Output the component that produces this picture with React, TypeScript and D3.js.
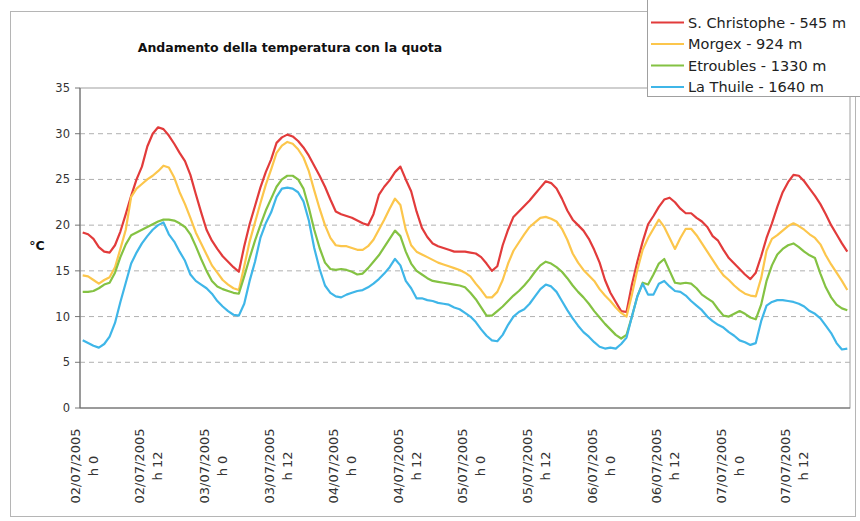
import React from 'react';
import * as d3 from 'd3';

const seriesNames = ['S. Christophe - 545 m', 'Morgex - 924 m', 'Etroubles - 1330 m', 'La Thuile - 1640 m'];
const seriesColors = ['#e23b3b', '#fcc64c', '#84c243', '#3fb6e8'];

// hourly temperatures, 02/07/2005 h 0 onwards
const sChristophe = [
  19.2, 19.0, 18.5, 17.6, 17.1, 17.0, 17.8, 19.3, 21.2, 23.2, 25.0, 26.4, 28.6, 30.0, 30.7, 30.5, 29.8, 28.9, 27.9, 27.0, 25.5, 23.4, 21.4, 19.5,
  18.3, 17.4, 16.6, 16.0, 15.4, 14.9, 17.7, 20.1, 22.1, 24.1, 25.8, 27.2, 29.0, 29.6, 29.9, 29.7, 29.2, 28.5, 27.6, 26.5, 25.4, 24.2, 22.8, 21.5,
  21.2, 21.0, 20.8, 20.5, 20.2, 20.0, 21.2, 23.3, 24.2, 24.9, 25.8, 26.4, 25.0, 23.7, 21.5, 19.7, 18.7, 18.0, 17.7, 17.5, 17.3, 17.1, 17.1, 17.1,
  17.0, 16.9, 16.5, 15.8, 15.0, 15.5, 17.8, 19.5, 20.9, 21.5, 22.1, 22.7, 23.4, 24.1, 24.8, 24.6, 24.0, 22.9, 21.6, 20.6, 20.0, 19.4, 18.5, 17.3,
  15.9, 14.0, 12.6, 11.6, 10.6, 10.5, 13.5, 16.0, 18.2, 20.1, 21.0, 22.0, 22.8, 23.0, 22.5, 21.8, 21.3, 21.3, 20.8, 20.4, 19.8, 18.8, 18.3, 17.3,
  16.4, 15.8, 15.2, 14.6, 14.1, 14.8, 16.6, 18.6, 20.2, 22.0, 23.6, 24.7, 25.5, 25.4, 24.8, 24.0, 23.2, 22.3, 21.2, 20.0, 19.0, 18.0, 17.1,
];
const morgex = [
  14.5, 14.4, 14.0, 13.6, 14.0, 14.3, 15.4, 17.4, 19.5, 23.1, 24.0, 24.5, 25.0, 25.4, 25.9, 26.5, 26.3, 25.2, 23.6, 22.3, 20.8, 19.2, 18.0, 16.8,
  15.6, 14.8, 14.0, 13.5, 13.1, 12.9, 15.5, 18.2, 20.3, 22.4, 24.4, 26.1, 27.9, 28.7, 29.1, 28.9, 28.3, 27.4, 25.9, 23.8, 21.8, 20.0, 18.6, 17.8,
  17.7, 17.7, 17.5, 17.3, 17.3, 17.7, 18.4, 19.5, 20.6, 21.8, 22.9, 22.2, 19.5, 17.8, 17.1, 16.8, 16.5, 16.2, 15.9, 15.7, 15.5, 15.3, 15.1, 14.8,
  14.4, 13.6, 12.9, 12.1, 12.1, 12.7, 14.0, 15.8, 17.2, 18.1, 19.0, 19.8, 20.3, 20.8, 20.9, 20.7, 20.4, 19.6, 18.4, 16.9, 15.9, 15.1, 14.5, 13.9,
  13.0, 12.3, 11.7, 11.0, 10.4, 10.0, 12.4, 15.1, 17.3, 18.6, 19.6, 20.6, 19.8, 18.6, 17.4, 18.6, 19.6, 19.6, 18.9, 18.0, 17.1, 16.2, 15.3, 14.5,
  14.0, 13.4, 12.9, 12.5, 12.3, 12.2, 14.2, 17.2, 18.5, 18.9, 19.4, 19.9, 20.2, 19.9, 19.5, 19.0, 18.6, 17.9, 16.7, 15.7, 14.8, 13.9, 12.9,
];
const etroubles = [
  12.7, 12.7, 12.8, 13.1, 13.5, 13.7, 14.8, 16.5, 17.9, 18.9, 19.2, 19.5, 19.8, 20.1, 20.4, 20.6, 20.6, 20.5, 20.2, 19.8, 19.0, 17.7, 16.3, 15.0,
  13.9, 13.3, 13.0, 12.8, 12.6, 12.5, 14.4, 16.4, 18.3, 20.0, 21.6, 22.9, 24.2, 25.0, 25.4, 25.4, 25.0, 24.0, 21.9, 19.5, 17.5, 15.9, 15.2, 15.1,
  15.2, 15.1, 14.9, 14.6, 14.7, 15.3, 16.0, 16.7, 17.6, 18.5, 19.4, 18.8, 17.1, 15.8, 15.0, 14.6, 14.2, 13.9, 13.8, 13.7, 13.6, 13.5, 13.4, 13.2,
  12.6, 11.9, 11.0, 10.1, 10.1, 10.6, 11.1, 11.7, 12.3, 12.8, 13.4, 14.1, 14.9, 15.6, 16.0, 15.8, 15.4, 14.9, 14.2, 13.4, 12.7, 12.1, 11.4, 10.6,
  9.9, 9.2, 8.6, 8.0, 7.6, 8.0, 10.0, 12.2, 13.7, 13.5, 14.6, 15.8, 16.3, 15.0, 13.7, 13.6, 13.7, 13.6, 13.1, 12.4, 12.0, 11.6, 10.8, 10.1,
  10.0, 10.3, 10.6, 10.3, 9.9, 9.7, 11.3, 13.9, 15.6, 16.8, 17.4, 17.8, 18.0, 17.6, 17.1, 16.7, 16.4, 14.7, 13.2, 12.1, 11.3, 10.9, 10.7,
];
const laThuile = [
  7.4, 7.1, 6.8, 6.6, 7.0, 7.8, 9.3, 11.6, 13.7, 15.8, 17.0, 18.0, 18.8, 19.5, 20.0, 20.3, 19.0, 18.2, 17.1, 16.1, 14.6, 13.9, 13.5, 13.1,
  12.5, 11.7, 11.1, 10.6, 10.2, 10.1, 11.4, 13.9, 16.0, 18.6, 20.2, 21.4, 23.1, 24.0, 24.1, 24.0, 23.6, 22.6, 20.5, 17.5, 15.2, 13.4, 12.6, 12.2,
  12.1, 12.4, 12.6, 12.8, 12.9, 13.2, 13.6, 14.1, 14.7, 15.4, 16.3, 15.6, 13.9, 13.1, 12.0, 12.0, 11.8, 11.7, 11.5, 11.4, 11.3, 11.0, 10.8, 10.4,
  10.0, 9.4, 8.6, 7.9, 7.4, 7.3, 8.0, 9.1, 10.0, 10.5, 10.8, 11.4, 12.2, 13.0, 13.5, 13.3, 12.7, 11.7, 10.7, 9.8, 9.0, 8.3, 7.8, 7.2,
  6.7, 6.5, 6.6, 6.5, 7.0, 7.7, 10.0, 12.2, 13.6, 12.4, 12.4, 13.6, 13.9, 13.3, 12.8, 12.7, 12.3, 11.7, 11.2, 10.7, 10.0, 9.5, 9.1, 8.8,
  8.3, 7.9, 7.4, 7.2, 6.9, 7.1, 9.5, 11.2, 11.6, 11.8, 11.8, 11.7, 11.6, 11.4, 11.1, 10.6, 10.3, 9.8, 9.0, 8.2, 7.1, 6.4, 6.5,
];

const tickDates = ['02/07/2005', '02/07/2005', '03/07/2005', '03/07/2005', '04/07/2005', '04/07/2005',
  '05/07/2005', '05/07/2005', '06/07/2005', '06/07/2005', '07/07/2005', '07/07/2005'];
const tickHours = ['h 0', 'h 12', 'h 0', 'h 12', 'h 0', 'h 12', 'h 0', 'h 12', 'h 0', 'h 12', 'h 0', 'h 12'];
const tickEvery = 12;
const yTicks = [0, 5, 10, 15, 20, 25, 30, 35];

const title = 'Andamento della temperatura con la quota';
const yTitle = '°C';

export default function App() {
  const allSeries = [sChristophe, morgex, etroubles, laThuile];
  const n = sChristophe.length;
  const x = d3.scaleLinear().domain([-0.5, n - 0.5]).range([80, 850]);
  const y = d3.scaleLinear().domain([0, 35]).range([408, 88]);
  const line = d3.line<number>().x((_, i) => x(i)).y((d) => y(d));
  const font = 'DejaVu Sans, Verdana, sans-serif';

  return (
    <svg width={860} height={521} style={{ position: 'absolute', left: 0, top: 0, background: '#fff' }}
      fontFamily={font}>
      <rect x={10.5} y={11.5} width={845} height={505} fill="#fff" stroke="#b5b5b5" />
      <text x={290} y={52} textAnchor="middle" fontWeight="bold" fontSize={12.5} fill="#111">{title}</text>
      <text x={37} y={250} textAnchor="middle" fontWeight="bold" fontSize={12.5} fill="#111">{yTitle}</text>

      {/* plot border */}
      <rect x={80} y={y(35)} width={770} height={y(0) - y(35)} fill="#fff" stroke="#a0a0a0" />
      {yTicks.filter((t) => t > 0 && t < 35).map((t) => (
        <line key={t} x1={80} x2={850} y1={y(t)} y2={y(t)} stroke="#b0b0b0" strokeDasharray="5,4" />
      ))}
      {yTicks.map((t) => (
        <g key={'yt' + t}>
          <line x1={75} x2={80} y1={y(t)} y2={y(t)} stroke="#777" />
          <text x={70} y={y(t)} dy="0.35em" textAnchor="end" fontSize={11.5} fill="#333">{t}</text>
        </g>
      ))}
      <line x1={80} x2={80} y1={y(35)} y2={y(0)} stroke="#666" />
      <line x1={80} x2={850} y1={y(0)} y2={y(0)} stroke="#666" />

      {tickDates.map((d, k) => {
        const cx = x(k * tickEvery);
        return (
          <g key={'xt' + k} transform={`translate(${cx + 1},466) rotate(-90)`} fontSize={13} fill="#333">
            <text x={0} y={-8.5} textAnchor="middle" dominantBaseline="central">{d}</text>
            <text x={0} y={9.5} textAnchor="middle" dominantBaseline="central">{tickHours[k]}</text>
          </g>
        );
      })}

      {allSeries.map((s, i) => (
        <path key={'s' + i} d={line(s) || ''} fill="none" stroke={seriesColors[i]} strokeWidth={2.2}
          strokeLinejoin="round" />
      ))}

      {/* legend */}
      <rect x={647.5} y={-2} width={215} height={98.5} fill="#fff" stroke="#a0a0a0" />
      {seriesNames.map((name, i) => {
        const ly = [22.5, 44, 65.5, 87][i];
        return (
          <g key={'lg' + i}>
            <line x1={651} x2={684} y1={ly} y2={ly} stroke={seriesColors[i]} strokeWidth={2.2} />
            <text x={688} y={ly} dy="0.35em" fontSize={14.5} fill="#222">{name}</text>
          </g>
        );
      })}
    </svg>
  );
}
